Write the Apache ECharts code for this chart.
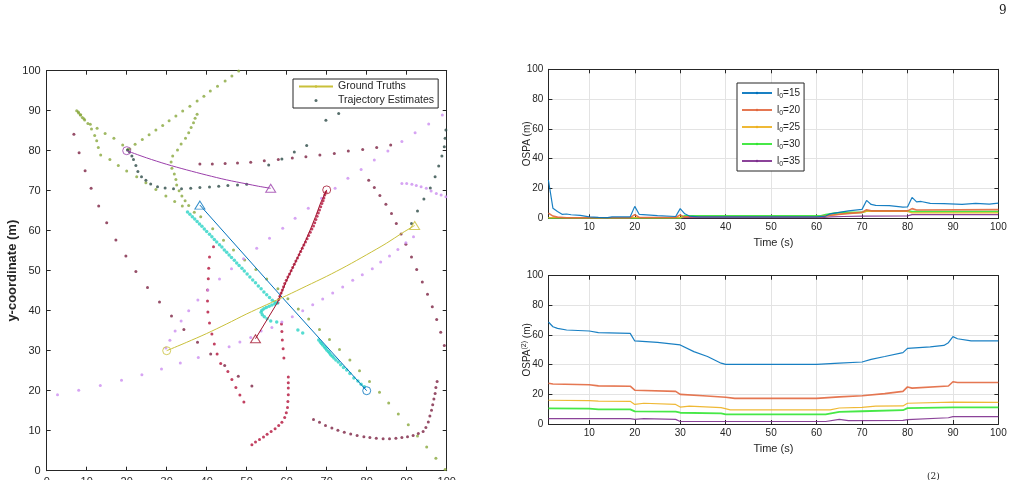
<!DOCTYPE html>
<html>
<head>
<meta charset="utf-8">
<script src="https://cdn.jsdelivr.net/npm/echarts@6.0.0/dist/echarts.min.js"></script>
<style>html,body{margin:0;padding:0;background:#fff}#main{width:1016px;height:480px}</style>
</head>
<body>
<div id="main"></div>
<script>
var FONT = 'Liberation Sans, Arial, Helvetica, sans-serif';
var INK = '#262626';

// ground truths (left plot)
var gtPurple = [[20,80],[25,78.2],[30,76.6],[35,75.2],[40,73.9],[45,72.7],[50,71.7],[53,71.1],[56,70.6]];
var gtBlue = [[80,20],[59,43.2],[38.3,66.4]];
var gtRed = [[70,70.2],[68.5,67],[67.2,63.5],[66,60.5],[64.5,57],[62.5,52.8],[60.3,48.3],[58.5,44],[57.6,41.9],[52.2,33]];
var gtYellow = [[30,30],[35,32.1],[40,34.3],[45,36.7],[50,39.2],[55,41.5],[60,43.8],[65,46.2],[70,48.6],[75,51.2],[80,54],[85,56.9],[89,59.5],[92,61.3]];
var gtColors = ['#9b3fab', '#0072BD', '#A2142F', '#c9c03a'];
var startPts = [[20,80],[80,20],[70,70.2],[30,30]];
var endPts = [[56,70.6],[38.3,66.4],[52.2,33],[92,61.3]];

// trajectory estimates (left plot)
var olive = [
  [20.8,80.4],[22.1,81.6],[23.9,82.8],[25.6,84.0],[27.3,85.2],[29.0,86.3],[30.6,87.5],[32.3,88.7],[34.0,89.9],[35.8,91.1],[37.6,92.4],[39.3,93.6],[40.9,94.9],[42.7,96.1],[44.6,97.4],[46.3,98.7],[48.0,99.9],
  [37.6,89.1],[37.1,88.1],[36.7,87.0],[36.1,85.8],[35.5,84.5],[34.7,83.1],[33.6,81.7],[32.7,80.2],[31.5,78.7],[31.1,77.2],[31.3,75.6],[31.9,74.2],[32.3,72.8],[32.5,71.4],[33.1,70.0],[33.8,68.7],[34.6,67.5],[35.5,66.3],
  [8.0,89.4],[8.4,88.9],[8.9,88.3],[9.5,87.7],[10.9,86.6],[12.6,85.6],[14.6,84.3],[16.8,83.1],[19.0,81.4],[20.3,80.3],
  [7.5,90.0],[7.9,89.7],[8.5,89.0],[9.3,88.0],[10.3,86.8],[11.2,85.4],[12.0,83.8],[12.5,82.5],[12.9,80.8],[13.5,78.9],[15.8,77.8],[17.9,76.3],[20.0,74.9],[22.5,73.5],[24.8,72.0],[27.3,70.3],[29.8,68.7],[32.0,67.3],[33.9,66.2],
  [36.9,64.6],[38.5,63.5],[41.5,60.5],[44.2,57.6],[46.7,55.2],[49.5,52.7],[52.3,50.3],[55.0,47.9],[57.8,45.5],[60.3,43.0],[62.9,40.4],[65.5,37.9],[68.2,35.3],[70.7,32.8],[73.2,30.3],[75.8,27.7],[78.2,25.0],[80.7,22.3],[83.2,19.6],[85.5,16.9],[87.9,14.2],[90.4,11.5],[92.7,8.7],[95.0,5.9],[97.3,3.1],[99.6,0.3]
];
var slate = [
  [20.2,80.2],[20.7,79.7],[21.3,78.7],[21.7,77.8],[22.3,76.3],[22.8,74.8],[23.7,73.5],[24.8,72.6],[26.0,71.7],[27.7,71.0],[29.6,70.7],[31.7,70.5],[33.7,70.5],[36.0,70.6],[38.3,70.8],[40.7,70.9],[43.0,71.1],[45.3,71.3],[47.7,71.4],[50.0,71.6],
  [55.5,76.4],[58.8,77.9],[61.9,79.7],[65.0,81.3],[69.8,87.6],[73.0,89.3],
  [91.2,61.8],[92.7,64.9],[94.3,67.9],[95.9,70.7],[97.1,73.5],[98.0,76.2],[98.8,78.7],[99.4,81.0],[99.6,83.1],[99.8,85.2]
];
var maroon = [
  [6.8,84.1],[8.1,79.5],[9.6,75.0],[11.1,70.6],[13.0,66.2],[15.0,62.0],[17.3,57.7],[19.8,53.7],[22.3,49.8],[25.2,45.8],[28.2,42.2],[31.2,38.7],[34.3,35.3],[37.7,32.1],[41.0,29.2],[44.5,26.3],[47.9,23.6],[51.3,21.2],
  [38.3,76.7],[41.4,76.7],[44.6,76.8],[47.7,76.9],[51.0,77.1],[54.4,77.5],[57.9,77.8],[61.4,78.2],[64.8,78.5],[68.3,78.9],[71.9,79.3],[75.4,79.9],[79.0,80.3],[82.5,80.8],[86.0,81.4],
  [80.5,72.6],[81.9,70.8],[83.3,68.8],[84.8,66.6],[86.2,64.3],[87.4,61.8],[88.6,59.2],[89.8,56.6],[91.2,53.4],[92.5,50.3],[93.9,47.2],[95.2,44.1],[96.4,41.0],[97.5,37.8],[98.5,34.6],[99.4,31.3],
  [66.7,12.8],[68.2,12.1],[69.7,11.3],[71.3,10.7],[72.8,10.1],[74.4,9.6],[76.0,9.2],[77.6,8.8],[79.3,8.5],[80.8,8.3],[82.4,8.1],[84.1,8.0],[85.7,8.0],[87.3,8.1],[88.8,8.3],[90.2,8.5],[91.6,8.8],[92.9,9.3],[94.1,9.8],[94.8,10.8],[95.4,12.2],[95.8,13.7],[96.2,15.1],[96.5,16.5],[96.8,17.9],[97.1,19.3],[97.3,20.8],[97.6,22.3]
];
var crimson = [
  [41.7,56.0],[40.7,53.4],[40.5,50.6],[40.4,48.0],[40.2,45.2],[40.2,42.4],[40.3,39.7],[40.7,36.9],[41.3,34.2],[41.9,31.7],[42.6,29.2],[43.5,26.8],[45.3,24.8],[46.3,22.8],[47.3,20.8],[48.3,18.9],[49.3,17.2],
  [51.3,6.5],[52.2,7.2],[53.2,7.8],[54.2,8.4],[55.1,9.1],[56.1,9.8],[57.1,10.5],[58.0,11.3],[58.8,12.1],[59.5,13.3],[59.9,14.5],[60.2,15.8],[60.3,17.3],[60.4,19.0],[60.4,20.7],[60.4,22.0],[60.4,23.4],[59.3,28.2],[59.1,30.5],[58.9,32.7],[58.8,34.8],[58.7,36.7],
  [69.8,69.6],[69.5,68.9],[69.3,68.2],[69.1,67.5],[68.8,66.8],[68.5,66.0],[68.2,65.2],[67.9,64.4],[67.6,63.6],[67.3,62.8],[67.0,62.0],[66.7,61.2],[66.3,60.4],[65.9,59.6],[65.5,58.8],[65.1,58.0],[64.7,57.2],[64.3,56.4],[63.9,55.6],[63.5,54.8],[63.1,54.0],[62.7,53.2],[62.3,52.4],[61.9,51.6],[61.5,50.8],[61.1,50.0],[60.7,49.2],[60.3,48.4],[59.9,47.6],[59.5,46.8],[59.2,46.0],[58.9,45.2],[58.6,44.4],[58.3,43.6],[58.0,42.8],[57.8,42.0]
];
var violet = [
  [2.7,19.0],[8.0,20.1],[13.4,21.3],[18.7,22.6],[23.8,24.0],[28.7,25.4],[33.4,26.9],[37.9,28.3],[45.6,31.0],[48.3,32.2],[51.0,33.3],[53.6,34.9],[56.3,35.8],[58.8,37.2],[61.4,38.5],[64.0,40.0],[66.5,41.5],[69.0,42.9],[71.5,44.4],[74.0,45.9],[76.5,47.6],[78.9,49.0],[81.4,50.5],[83.5,52.2],[85.7,53.7],[87.8,55.3],[89.8,57.0],[91.7,58.5],
  [29.8,30.7],[30.8,32.6],[32.1,34.9],[33.6,37.4],[35.5,40.0],[37.8,42.7],[40.3,45.2],[43.2,47.9],[46.2,50.5],[49.2,53.0],[52.5,55.6],[55.7,58.1],[59.0,60.6],[62.1,63.1],[65.4,65.6],[68.7,68.1],[72.1,70.6],[75.3,73.1],[78.6,75.3],[81.9,77.7],[85.3,79.9],[88.8,82.3],[92.1,84.5],[95.5,86.7],[98.9,88.9],
  [88.8,71.8],[90.0,71.8],[91.3,71.6],[92.4,71.3],[93.6,71.0],[94.9,70.6],[96.1,69.9],[97.4,69.3],[98.6,68.9],[99.8,68.5]
];
var cyan = [
  [35.2,64.7],[35.8,64.1],[36.4,63.5],[37.0,62.9],[37.6,62.3],[38.2,61.7],[38.8,61.1],[39.4,60.4],[40.0,59.8],[40.7,59.1],[41.3,58.5],[41.9,57.8],[42.5,57.2],[43.2,56.5],[43.8,55.9],[44.4,55.2],[45.0,54.6],[45.6,53.9],[46.2,53.3],[46.9,52.6],[47.5,51.9],[48.1,51.3],[48.8,50.6],[49.4,49.9],[50.1,49.2],[50.8,48.4],[51.5,47.7],[52.2,47.0],[52.9,46.2],[53.6,45.5],[54.3,44.7],[55.0,44.0],[55.7,43.3],[56.4,42.6],[57.1,42.2],[57.7,41.9],
  [57.0,41.7],[56.3,41.4],[55.6,41.1],[54.9,40.8],[54.3,40.5],[53.8,40.1],[53.6,39.6],[53.9,39.0],[54.4,38.5],[55.1,38.0],[56.0,37.4],[57.5,37.2],[62.8,35.2],[64.0,34.4],
  [68.0,32.7],[68.4,32.2],[68.7,31.8],[69.0,31.4],[69.4,31.0],[69.7,30.6],[70.0,30.2],[70.4,29.8],[70.7,29.4],[71.0,29.0],[71.4,28.6],[71.8,28.2],[72.3,27.7],[72.9,27.2],[73.5,26.5],[74.2,25.8],[75.0,25.2],[75.8,24.3],[76.8,23.2],[77.8,22.4],[78.6,21.6],[79.4,21.0]
];

// OSPA (top right), [time, value]
var ospaNames = ['l0=15', 'l0=20', 'l0=25', 'l0=30', 'l0=35'];
var ospaColors = ['#0072BD', '#e2683f', '#EDB120', '#33e633', '#7E2F8E'];
var ospa15 = [[1,25.7],[2,6.7],[3,4.5],[4,2.7],[5,2.9],[6,2.4],[8,2.0],[10,1.0],[12,0.6],[14,0.5],[15,1.0],[19,1.0],[20,8.0],[21,2.6],[25,1.8],[29,1.2],[30,6.5],[31,3.0],[32,1.5],[34,1.0],[60,1.0],[62,1.5],[63,3.0],[65,4.0],[67,5.0],[70,6.0],[71,12.0],[72,9.3],[73,8.7],[76,8.5],[79,7.5],[80,7.6],[81,14.0],[82,11.0],[83,11.3],[85,10.0],[88,9.8],[92,9.3],[95,10.0],[98,9.5],[100,10.2]];
var ospa20 = [[1,3.5],[2,1.5],[3,0.8],[5,0.4],[19,0.4],[20,2.5],[21,0.6],[29,0.5],[30,2.3],[31,0.8],[32,1.0],[61,1.0],[63,2.0],[66,3.0],[70,4.0],[71,5.8],[72,5.0],[80,5.0],[81,6.5],[82,5.6],[100,5.8]];
var ospa25 = [[1,0.5],[30,0.5],[31,1.2],[61,1.3],[63,2.0],[66,3.2],[70,4.0],[71,4.6],[80,4.6],[81,3.6],[100,3.6]];
var ospa30 = [[1,0.3],[30,0.3],[31,1.6],[61,1.6],[62,2.5],[64,3.5],[66,4.0],[70,4.0],[71,5.0],[80,5.0],[81,4.5],[100,4.5]];
var ospa35 = [[1,0.1],[30,0.1],[31,0.5],[61,0.5],[63,0.9],[66,1.2],[70,1.5],[80,1.6],[81,2.5],[100,2.5]];

// OSPA(2) (bottom right), [time, value]
var ospa2_15 = [[1,68.8],[2,65.6],[3,64.5],[5,63.4],[10,62.7],[12,61.6],[19,61.1],[20,56.0],[25,55.0],[29,53.7],[30,53.3],[33,48.8],[36,45.5],[39,41.0],[40,40.2],[60,40.2],[65,41.0],[70,41.8],[72,43.6],[75,45.5],[79,48.1],[80,51.0],[85,52.0],[88,53.0],[89,54.8],[90,58.9],[91,57.5],[94,56.0],[100,56.0]];
var ospa2_20 = [[1,27.5],[2,27.0],[10,26.5],[12,25.7],[19,25.5],[20,22.8],[29,22.0],[30,20.0],[35,19.0],[40,18.0],[42,17.3],[60,17.3],[65,18.3],[70,19.0],[75,20.5],[79,22.0],[80,25.0],[81,24.2],[89,25.6],[90,28.5],[91,28.0],[100,28.0]];
var ospa2_25 = [[1,16.0],[10,15.8],[12,15.4],[19,15.3],[20,13.2],[22,14.0],[29,13.2],[30,11.4],[32,12.0],[39,11.0],[41,9.5],[63,9.5],[65,10.8],[70,11.2],[73,12.0],[79,12.2],[80,14.0],[90,14.8],[100,14.6]];
var ospa2_30 = [[1,10.5],[10,10.4],[12,9.9],[19,9.9],[20,8.5],[29,8.3],[30,7.6],[39,7.2],[40,6.5],[62,6.5],[65,8.2],[70,8.6],[79,9.3],[80,10.7],[90,11.2],[100,11.2]];
var ospa2_35 = [[1,3.6],[19,3.6],[20,3.1],[22,3.6],[29,3.1],[30,1.7],[62,1.7],[65,3.1],[67,2.3],[79,2.5],[80,3.0],[89,4.2],[90,5.0],[100,5.0]];

var timeTicks = [10,20,30,40,50,60,70,80,90,100];

var chart = echarts.init(document.getElementById('main'));

var tickInside = {show: true, inside: true, length: 4, lineStyle: {color: INK}};
var lineAx = {show: true, onZero: false, lineStyle: {color: INK, width: 1}};

function coordAxes(grid) {
  return [
    {gridIndex: grid, type: 'value', min: 0, max: 100, interval: 10, position: 'bottom',
      axisLine: lineAx, axisTick: tickInside, splitLine: {show: false},
      axisLabel: {color: INK, fontFamily: FONT, fontSize: 11, margin: 6}},
    {gridIndex: grid, type: 'value', min: 0, max: 100, interval: 10, position: 'top',
      axisLine: lineAx, axisTick: tickInside, splitLine: {show: false}, axisLabel: {show: false}}
  ];
}
function timeAxes(grid) {
  return [
    {gridIndex: grid, type: 'value', min: 1, max: 100, position: 'bottom',
      name: 'Time (s)', nameLocation: 'middle', nameGap: 19, nameMoveOverlap: false,
      nameTextStyle: {color: INK, fontFamily: FONT, fontSize: 11},
      axisLine: lineAx,
      axisTick: {show: true, inside: true, length: 4, lineStyle: {color: INK}, customValues: timeTicks},
      axisLabel: {color: INK, fontFamily: FONT, fontSize: 10, margin: 4, customValues: timeTicks},
      splitLine: {show: true, lineStyle: {color: '#e3e3e3'}}},
    {gridIndex: grid, type: 'value', min: 1, max: 100, position: 'top',
      axisLine: lineAx,
      axisTick: {show: true, inside: true, length: 4, lineStyle: {color: INK}, customValues: timeTicks},
      axisLabel: {show: false}, splitLine: {show: false}}
  ];
}
function ospaYAxes(grid, name) {
  return [
    {gridIndex: grid, type: 'value', min: 0, max: 100, interval: 20, position: 'left',
      name: name, nameLocation: 'middle', nameGap: 14, nameMoveOverlap: false,
      nameTextStyle: {color: INK, fontFamily: FONT, fontSize: 10, lineHeight: 14,
        rich: {p: {fontSize: 7, lineHeight: 8, verticalAlign: 'top', fontFamily: FONT, color: INK}}},
      axisLine: lineAx, axisTick: tickInside, axisLabel: {color: INK, fontFamily: FONT, fontSize: 10, margin: 5},
      splitLine: {show: true, lineStyle: {color: '#e3e3e3'}}},
    {gridIndex: grid, type: 'value', min: 0, max: 100, interval: 20, position: 'right',
      axisLine: lineAx, axisTick: tickInside, axisLabel: {show: false}, splitLine: {show: false}}
  ];
}

var xAxes = coordAxes(0).concat(timeAxes(1), timeAxes(2));
var yAxes = [
  {gridIndex: 0, type: 'value', min: 0, max: 100, interval: 10, position: 'left',
    name: 'y-coordinate (m)', nameLocation: 'middle', nameGap: 28, nameMoveOverlap: false,
    nameTextStyle: {color: INK, fontFamily: FONT, fontSize: 13, fontWeight: 'bold'},
    axisLine: lineAx, axisTick: tickInside, splitLine: {show: false},
    axisLabel: {color: INK, fontFamily: FONT, fontSize: 11, margin: 6}},
  {gridIndex: 0, type: 'value', min: 0, max: 100, interval: 10, position: 'right',
    axisLine: lineAx, axisTick: tickInside, splitLine: {show: false}, axisLabel: {show: false}}
].concat(ospaYAxes(1, 'OSPA (m)'), ospaYAxes(2, 'OSPA{p|(2)} (m)'));

var series = [];
function dots(name, data, color, size) {
  series.push({name: name, type: 'scatter', xAxisIndex: 0, yAxisIndex: 0, data: data,
    symbol: 'circle', symbolSize: size, itemStyle: {color: color}, silent: true, z: 2});
}
dots('olive', olive, '#88a83c', 3);
dots('Trajectory Estimates', slate, '#2c4a46', 3);
dots('maroon', maroon, '#7c2242', 3);
dots('crimson', crimson, '#b3123a', 3);
dots('violet', violet, '#cc8df0', 3);
dots('cyan', cyan, '#2ad3c6', 3.5);

var gtData = [gtPurple, gtBlue, gtRed, gtYellow];
var gtNames = ['gt1', 'gt2', 'gt3', 'Ground Truths'];
gtData.forEach(function (d, i) {
  series.push({name: gtNames[i], type: 'line', xAxisIndex: 0, yAxisIndex: 0, data: d,
    symbol: 'none', smooth: (i === 0 || i === 3) ? 0.3 : false,
    lineStyle: {color: gtColors[i], width: 1}, itemStyle: {color: gtColors[i]}, z: 3});
});
series.push({name: 'starts', type: 'scatter', xAxisIndex: 0, yAxisIndex: 0, symbol: 'circle', symbolSize: 8, z: 4,
  data: startPts.map(function (p, i) {
    return {value: p, itemStyle: {color: 'rgba(255,255,255,0)', borderColor: gtColors[i], borderWidth: 1}};
  })});
series.push({name: 'ends', type: 'scatter', xAxisIndex: 0, yAxisIndex: 0, symbol: 'triangle', symbolSize: [10, 8], z: 4,
  data: endPts.map(function (p, i) {
    return {value: p, itemStyle: {color: 'rgba(255,255,255,0)', borderColor: gtColors[i], borderWidth: 1}};
  })});

var topSets = [ospa15, ospa20, ospa25, ospa30, ospa35];
var botSets = [ospa2_15, ospa2_20, ospa2_25, ospa2_30, ospa2_35];
var widths = [1.2, 1.6, 1.2, 1.8, 1.2];
topSets.forEach(function (d, i) {
  series.push({name: ospaNames[i], type: 'line', xAxisIndex: 2, yAxisIndex: 2, data: d, symbol: 'none',
    lineStyle: {color: ospaColors[i], width: widths[i], opacity: 0.9}, itemStyle: {color: ospaColors[i]},
    z: 10 - i});
});
botSets.forEach(function (d, i) {
  series.push({name: ospaNames[i], type: 'line', xAxisIndex: 4, yAxisIndex: 4, data: d, symbol: 'none',
    lineStyle: {color: ospaColors[i], width: widths[i], opacity: 0.9}, itemStyle: {color: ospaColors[i]}});
});

chart.setOption({
  animation: false,
  backgroundColor: '#fff',
  grid: [
    {left: 46.7, top: 70.7, width: 400, height: 400, outerBoundsMode: 'none'},
    {left: 548.4, top: 69.3, width: 450, height: 149, outerBoundsMode: 'none'},
    {left: 548.4, top: 275.7, width: 450, height: 148.3, outerBoundsMode: 'none'}
  ],
  xAxis: xAxes,
  yAxis: yAxes,
  legend: [
    {data: ['Ground Truths', 'Trajectory Estimates'], orient: 'vertical', left: 293, top: 79,
      itemWidth: 34, itemHeight: 3, itemGap: 3, padding: [2, 4, 2, 5],
      borderColor: INK, borderWidth: 1, backgroundColor: '#fff', selectedMode: false,
      textStyle: {color: INK, fontFamily: FONT, fontSize: 10.6}},
    {data: ospaNames, orient: 'vertical', left: 737, top: 83,
      itemWidth: 30, itemHeight: 3, itemGap: 3, padding: [3, 4, 3, 4],
      borderColor: INK, borderWidth: 1, backgroundColor: '#fff', selectedMode: false,
      formatter: function (n) { return 'l{s|0}' + n.slice(2); },
      textStyle: {color: INK, fontFamily: FONT, fontSize: 10, lineHeight: 14,
        rich: {s: {fontSize: 7, lineHeight: 8, verticalAlign: 'bottom', fontFamily: FONT, color: INK}}}}
  ],
  graphic: [
    {type: 'text', left: 999, top: 5, style: {text: '9', font: '12px "DejaVu Serif", serif', fill: '#222'}},
    {type: 'text', left: 927, top: 472, style: {text: '(2)', font: '9px "DejaVu Serif", serif', fill: '#222'}}
  ],
  series: series
});
</script>
</body>
</html>
